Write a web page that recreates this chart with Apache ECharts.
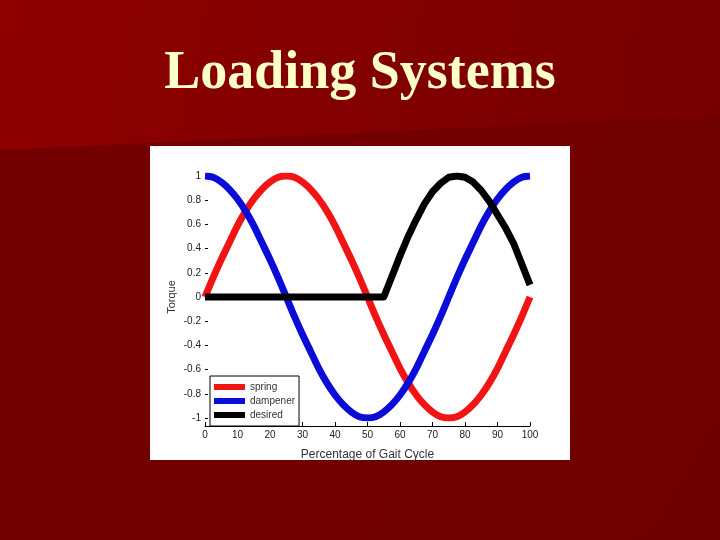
<!DOCTYPE html>
<html>
<head>
<meta charset="utf-8">
<script src="https://cdn.jsdelivr.net/npm/echarts@6/dist/echarts.min.js"></script>
<style>
html,body{margin:0;padding:0;background:#7a0000;}
#chart{width:720px;height:540px;}
</style>
</head>
<body>
<div id="chart"></div>
<script>
// Percentage of gait cycle (x positions of the sampled points)
const gaitPct = [0,2.5,5,7.5,10,12.5,15,17.5,20,22.5,25,27.5,30,32.5,35,37.5,40,42.5,45,47.5,50,
  52.5,55,57.5,60,62.5,65,67.5,70,72.5,75,77.5,80,82.5,85,87.5,90,92.5,95,97.5,100];
// Torque values
const spring = [0,0.16,0.31,0.45,0.59,0.71,0.81,0.89,0.95,0.99,1,0.99,0.95,0.89,0.81,0.71,0.59,0.45,0.31,0.16,0,
  -0.16,-0.31,-0.45,-0.59,-0.71,-0.81,-0.89,-0.95,-0.99,-1,-0.99,-0.95,-0.89,-0.81,-0.71,-0.59,-0.45,-0.31,-0.16,0];
const dampener = [1,0.99,0.95,0.89,0.81,0.71,0.59,0.45,0.31,0.16,0,-0.16,-0.31,-0.45,-0.59,-0.71,-0.81,-0.89,-0.95,-0.99,-1,
  -0.99,-0.95,-0.89,-0.81,-0.71,-0.59,-0.45,-0.31,-0.16,0,0.16,0.31,0.45,0.59,0.71,0.81,0.89,0.95,0.99,1];
const desired = [0,0,0,0,0,0,0,0,0,0,0,0,0,0,0,0,0,0,0,0,0,
  0,0,0.17,0.34,0.50,0.64,0.77,0.87,0.94,0.99,1,0.99,0.95,0.88,0.79,0.68,0.57,0.44,0.27,0.1];
const xTicks = [0,10,20,30,40,50,60,70,80,90,100];
const yTicks = [-1,-0.8,-0.6,-0.4,-0.2,0,0.2,0.4,0.6,0.8,1];
const seriesNames = ['spring','dampener','desired'];
const seriesColors = ['#f21414','#0c0cd8','#000000'];
const seriesSmooth = [0.3, 0.3, false];

const pairs = vals => gaitPct.map((x,i)=>[x, vals[i]]);
const allVals = [spring, dampener, desired];

const chart = echarts.init(document.getElementById('chart'), null, {renderer:'canvas'});
chart.setOption({
  backgroundColor: {
    type:'linear', x:0, y:0, x2:1, y2:0.3,
    colorStops:[{offset:0,color:'#8e0000'},{offset:1,color:'#760000'}]
  },
  animation:false,
  title:{
    text:'Loading Systems', left:'center', top:42,
    textStyle:{fontFamily:'Liberation Serif', fontWeight:'bold', fontSize:54, color:'#ffffc8'}
  },
  graphic:[
    {type:'polygon', z:-10, shape:{points:[[0,150],[720,116],[720,540],[0,540]]},
      style:{fill:{type:'linear',x:0,y:0,x2:1,y2:1,colorStops:[{offset:0,color:'#740000'},{offset:1,color:'#700000'}]}}},
    {type:'rect', z:-9, shape:{x:150,y:146,width:420,height:314}, style:{fill:'#ffffff'}}
  ],
  grid:{left:205, right:190, top:176, bottom:122, containLabel:false},
  legend:{
    data:seriesNames, orient:'vertical', left:210, top:376,
    icon:'rect', itemWidth:31, itemHeight:6, itemGap:4,
    padding:[6,4,6,4], borderColor:'#000', borderWidth:1, backgroundColor:'#fff', borderRadius:0,
    textStyle:{fontFamily:'Liberation Sans', fontSize:10, color:'#333', lineHeight:10}
  },
  xAxis:{
    type:'value', min:xTicks[0], max:xTicks[xTicks.length-1], interval:10,
    offset:8,
    name:'Percentage of Gait Cycle', nameLocation:'middle', nameGap:23,
    nameTextStyle:{fontFamily:'Liberation Sans', fontSize:12, color:'#333'},
    axisLine:{onZero:false, lineStyle:{color:'#000', width:1}},
    axisTick:{inside:true, length:4, lineStyle:{color:'#000'}},
    axisLabel:{margin:4, fontFamily:'Liberation Sans', fontSize:10, color:'#222'},
    splitLine:{show:false}
  },
  yAxis:{
    type:'value', min:yTicks[0], max:yTicks[yTicks.length-1], interval:0.2,
    name:'Torque', nameLocation:'middle', nameGap:28, nameRotate:90,
    nameTextStyle:{fontFamily:'Liberation Sans', fontSize:11, color:'#333'},
    axisLine:{show:false},
    axisTick:{show:true, inside:true, length:3, lineStyle:{color:'#000'}},
    axisLabel:{margin:4, fontFamily:'Liberation Sans', fontSize:10, color:'#222',
      formatter: v => String(Math.round(v*10)/10)},
    splitLine:{show:false}
  },
  series: seriesNames.map((n,i)=>({
    name:n, type:'line', data:pairs(allVals[i]), showSymbol:false, symbol:'none',
    smooth:seriesSmooth[i],
    lineStyle:{color:seriesColors[i], width:7, cap:'butt', join:'round'},
    itemStyle:{color:seriesColors[i]}, z:2+i
  }))
});
</script>
</body>
</html>
